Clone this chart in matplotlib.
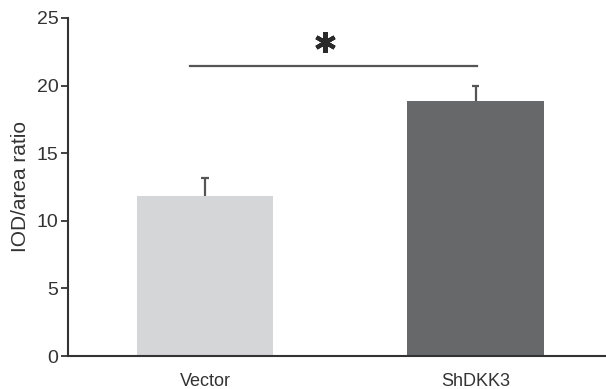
import numpy as np
import matplotlib
matplotlib.use("Agg")
import matplotlib.pyplot as plt

plt.rcParams["font.family"] = ["Liberation Sans", "DejaVu Sans"]

groups = ["Vector", "ShDKK3"]
values = [11.85, 18.85]
errors = [1.3, 1.1]
colors = ["#d5d6d8", "#67686a"]
sig_y = 21.45
star_y = 23.2

fig = plt.figure(figsize=(6.06, 3.89), dpi=100)
ax = fig.add_axes([0.1122, 0.0848, 0.8878, 0.869])

x = np.arange(len(groups))
tops = np.array(values) + np.array(errors)
ax.bar(x, values, width=0.503, color=colors, zorder=2)
# upper error bars only
ax.vlines(x, values, tops, color="#555555", lw=1.6, zorder=1)
ax.hlines(tops, x - 0.014, x + 0.014, color="#555555", lw=1.6, zorder=1)

ax.plot([-0.055, 1.006], [sig_y, sig_y], color="#555555", lw=1.6)
ax.plot([0.443], [star_y], marker=(6, 2, 0), markersize=15, mew=3.0,
        color="#2a2a2a", ls="none")

ax.set_xlim(-0.506, 1.482)
ax.set_ylim(0, 25)
ax.set_yticks([0, 5, 10, 15, 20, 25])
ax.set_xticks(x)
ax.set_xticklabels(groups, fontsize=13, color="#333333")
ax.tick_params(axis="y", labelsize=14, colors="#333333", length=5, width=1.3, pad=2)
ax.tick_params(axis="x", length=0, pad=12)
ax.set_ylabel("IOD/area ratio", fontsize=15, color="#333333", labelpad=5)

for s in ["top", "right"]:
    ax.spines[s].set_visible(False)
for s in ["left", "bottom"]:
    ax.spines[s].set_color("#333333")
    ax.spines[s].set_linewidth(1.5)

fig.savefig("out.png", dpi=100)
